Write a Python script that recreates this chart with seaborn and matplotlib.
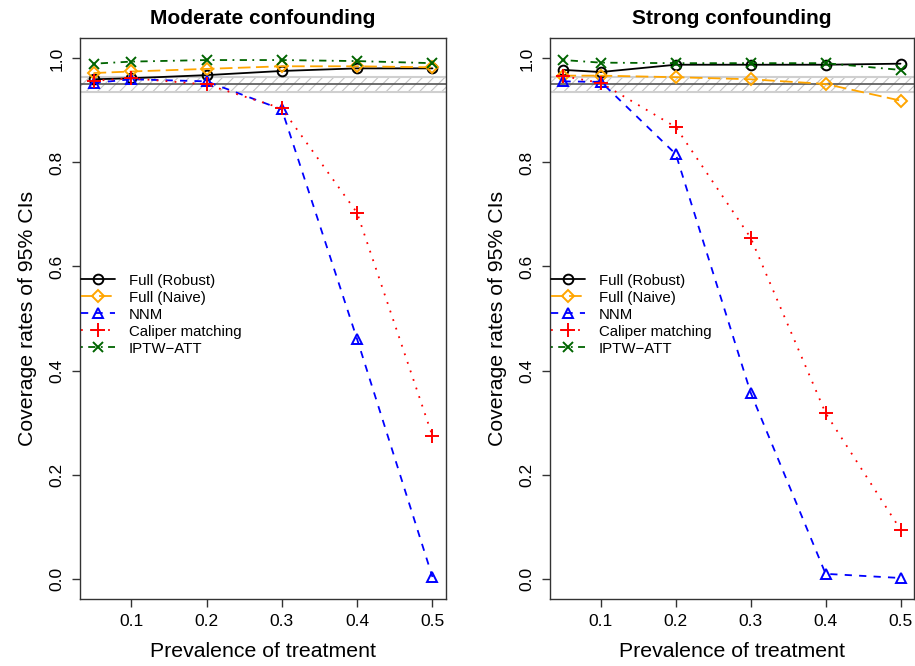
import numpy as np
import pandas as pd
import matplotlib
matplotlib.use("Agg")
import matplotlib.pyplot as plt
import seaborn as sns

prevalence = [0.05, 0.1, 0.2, 0.3, 0.4, 0.5]
methods = ["Full (Robust)", "Full (Naive)", "NNM", "Caliper matching", "IPTW\u2212ATT"]
panel_titles = ["Moderate confounding", "Strong confounding"]

# Moderate confounding
mod_robust = [0.960, 0.962, 0.968, 0.976, 0.981, 0.981]
mod_naive = [0.972, 0.975, 0.980, 0.985, 0.985, 0.983]
mod_nnm = [0.953, 0.960, 0.956, 0.902, 0.460, 0.003]
mod_caliper = [0.957, 0.962, 0.950, 0.904, 0.703, 0.274]
mod_iptw = [0.990, 0.994, 0.997, 0.997, 0.995, 0.991]

# Strong confounding
str_robust = [0.978, 0.974, 0.988, 0.988, 0.988, 0.990]
str_naive = [0.967, 0.967, 0.964, 0.960, 0.951, 0.919]
str_nnm = [0.956, 0.955, 0.816, 0.357, 0.009, 0.001]
str_caliper = [0.966, 0.953, 0.868, 0.655, 0.318, 0.094]
str_iptw = [0.997, 0.992, 0.991, 0.991, 0.991, 0.978]

nominal = 0.95
band_lo, band_hi = 0.9365, 0.9635

x_ticks = [0.1, 0.2, 0.3, 0.4, 0.5]
y_ticks = [0.0, 0.2, 0.4, 0.6, 0.8, 1.0]

panels = [
    [mod_robust, mod_naive, mod_nnm, mod_caliper, mod_iptw],
    [str_robust, str_naive, str_nnm, str_caliper, str_iptw],
]

styles = {
    "Full (Robust)": dict(color="black", marker="o", ls="-", ms=7),
    "Full (Naive)": dict(color="#FFA500", marker="D", ls=(0, (7, 3)), ms=6.5),
    "NNM": dict(color="#0000FF", marker="^", ls=(0, (4, 4)), ms=7.5),
    "Caliper matching": dict(color="#FF0000", marker="+", ls=(0, (1, 4)), ms=10),
    "IPTW\u2212ATT": dict(color="#006400", marker="x", ls=(0, (1, 3, 4, 3)), ms=7.5),
}

sns.set_style("ticks")
plt.rcParams["font.family"] = ["Liberation Sans", "DejaVu Sans"]
plt.rcParams["hatch.linewidth"] = 0.8
for k in ["text.color", "axes.labelcolor", "xtick.color", "ytick.color",
          "xtick.labelcolor", "ytick.labelcolor"]:
    plt.rcParams[k] = "black"

fig = plt.figure(figsize=(9.15, 6.66), dpi=100)
W, H = 915, 666
ax_boxes = [(80, 38, 446, 599), (550, 38, 914, 599)]

for pi, (series, title) in enumerate(zip(panels, panel_titles)):
    l, t, r, b = ax_boxes[pi]
    ax = fig.add_axes([l / W, 1 - b / H, (r - l) / W, (b - t) / H])
    ax.axhspan(band_lo, band_hi, facecolor="none", edgecolor="#c4c4c4",
               hatch="///", lw=0, zorder=0)
    ax.axhline(band_lo, color="#cfcfcf", lw=1.5, zorder=1)
    ax.axhline(band_hi, color="#cfcfcf", lw=1.5, zorder=1)
    ax.axhline(nominal, color="#555555", lw=1.2, zorder=1)

    for name, vals in zip(methods, series):
        st = styles[name]
        df = pd.DataFrame({"prev": prevalence, "cov": vals})
        sns.lineplot(data=df, x="prev", y="cov", ax=ax, color=st["color"],
                     linestyle=st["ls"], lw=1.3, marker=st["marker"],
                     markersize=st["ms"], markerfacecolor="none",
                     markeredgecolor=st["color"], markeredgewidth=1.4,
                     label=name, zorder=3)

    ax.set_xlim(0.032, 0.518)
    ax.set_ylim(-0.0394, 1.0394)
    ax.set_xticks(x_ticks)
    ax.set_xticklabels([f"{v:.1f}" for v in x_ticks], fontsize=12.5)
    ax.set_yticks(y_ticks)
    ax.set_yticklabels([f"{v:.1f}" for v in y_ticks], fontsize=12.5,
                       rotation=90, va="center")
    ax.tick_params(direction="out", length=6, width=1, color="#333333", pad=5)
    for sp in ax.spines.values():
        sp.set_visible(True)
        sp.set_color("#333333")
        sp.set_linewidth(1)
    ax.set_xlabel("Prevalence of treatment", fontsize=15.3, labelpad=9)
    ax.set_ylabel("Coverage rates of 95% CIs", fontsize=15.3, labelpad=9)
    ax.set_title(title, fontsize=15, fontweight="bold", pad=10)
    leg = ax.legend(loc="upper left", bbox_to_anchor=(0.002, 0.58),
                    frameon=False, fontsize=10.8, handlelength=2.3,
                    handletextpad=0.9, labelspacing=0.2, borderpad=0,
                    borderaxespad=0)

fig.savefig("out.png", dpi=100)
